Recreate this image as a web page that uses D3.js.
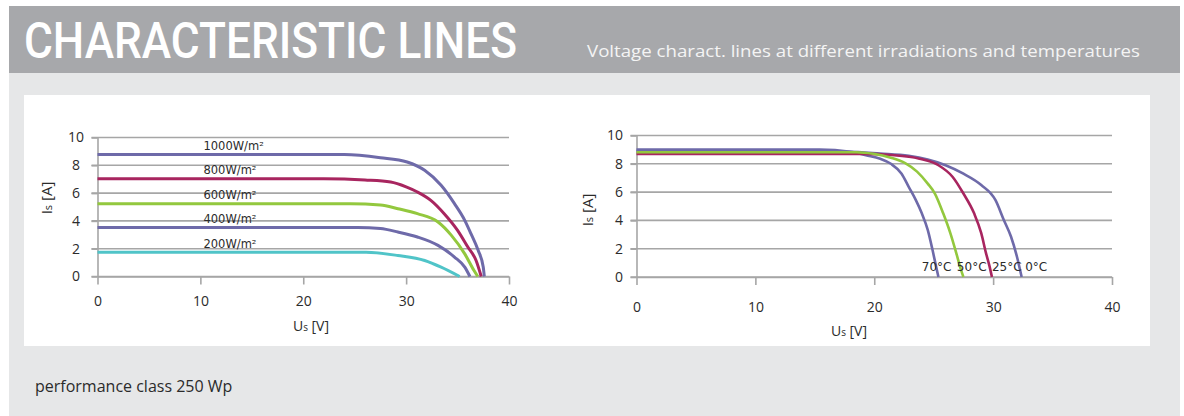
<!DOCTYPE html>
<html>
<head>
<meta charset="utf-8">
<script src="https://cdn.jsdelivr.net/npm/d3@7"></script>
<style>
  body { margin: 0; background: #fff; }
  svg { display: block; }
  .tick text { font-family: "Open Sans", sans-serif; font-size: 14px; fill: #2b2b2b; }
  .axis-title { font-family: "Open Sans", sans-serif; font-size: 14px; fill: #2b2b2b; }
  .curve-label { font-family: "DejaVu Sans", sans-serif; fill: #2b2b2b; }
</style>
</head>
<body>
<div id="chart"></div>
<script>
// left chart: current vs voltage at different irradiations [U, I]
const irr1000 = [[0, 8.77], [24, 8.77], [27.5, 8.55], [30.1, 8.24], [31.8, 7.64], [33.4, 6.56], [34.7, 5.24], [35.7, 4.04], [36.3, 3.08], [37.0, 1.88], [37.5, 0.67], [37.6, 0]];
const irr800 = [[0, 7.04], [22, 7.04], [26, 6.95], [28.5, 6.8], [30, 6.45], [31.1, 6.08], [32.4, 5.48], [33.7, 4.52], [35.0, 3.32], [36.0, 2.12], [36.8, 1.15], [37.3, 0]];
const irr600 = [[0, 5.24], [24.6, 5.24], [27.5, 5.15], [29.2, 4.88], [31.1, 4.52], [33.1, 3.92], [34.4, 2.96], [35.7, 1.63], [36.6, 0.43], [36.97, 0]];
const irr400 = [[0, 3.53], [25.3, 3.53], [27.5, 3.45], [29.2, 3.2], [31.1, 2.84], [33.1, 2.24], [34.7, 1.4], [35.7, 0.67], [36.2, 0]];
const irr200 = [[0, 1.75], [26.1, 1.75], [29.2, 1.51], [31.8, 1.15], [33.4, 0.67], [35.2, 0]];
const irrLabels = ["1000W/m²", "800W/m²", "600W/m²", "400W/m²", "200W/m²"];

// right chart: current vs voltage at different temperatures [U, I]
const t70 = [[0, 9.0], [15.4, 9.0], [18, 8.85], [19.3, 8.6], [20.5, 8.36], [21.4, 8.0], [22.3, 7.3], [22.9, 6.37], [23.5, 5.43], [24.0, 4.5], [24.5, 3.33], [24.9, 1.92], [25.2, 0.75], [25.4, 0]];
const t50 = [[0, 8.82], [18.5, 8.82], [19.9, 8.71], [21.4, 8.43], [22.6, 8.05], [23.6, 7.45], [24.5, 6.6], [25.1, 5.9], [25.8, 4.5], [26.4, 3.1], [26.9, 1.69], [27.3, 0.5], [27.5, 0]];
const t25 = [[0, 8.7], [19, 8.7], [21.4, 8.62], [23.8, 8.36], [25.4, 7.9], [26.6, 7.07], [27.5, 5.9], [28.4, 4.5], [29.0, 3.1], [29.4, 1.69], [29.7, 0.75], [29.9, 0]];
const t0 = [[0, 8.9], [17.8, 8.85], [20.5, 8.72], [22.9, 8.56], [24.5, 8.3], [26, 7.9], [27.5, 7.3], [29, 6.5], [30.2, 5.43], [30.9, 4.03], [31.5, 2.86], [32.0, 1.45], [32.4, 0]];
const tempLabels = ["70°C", "50°C", "25°C", "0°C"];
const tempLabelU = [24.0, 26.95, 29.9, 32.7];

const xTicks = [0, 10, 20, 30, 40];
const yTicks = [0, 2, 4, 6, 8, 10];

const PURPLE = "#6e6aa9", MAGENTA = "#a8255f", GREEN = "#93c83e", CYAN = "#50c4c8";
const GRID = "#a6a6a6";

const svg = d3.select("#chart").append("svg")
  .attr("width", 1184)
  .attr("height", 416);

// background blocks
svg.append("rect").attr("x", 9).attr("y", 6).attr("width", 1171).attr("height", 67).attr("fill", "#a7a8ab");
svg.append("rect").attr("x", 9).attr("y", 73).attr("width", 1171).attr("height", 343).attr("fill", "#e6e7e8");
svg.append("rect").attr("x", 24).attr("y", 95).attr("width", 1126).attr("height", 251).attr("fill", "#fff");

svg.append("text")
  .attr("x", 24).attr("y", 58)
  .attr("textLength", 493).attr("lengthAdjust", "spacingAndGlyphs")
  .style("font-family", "Roboto, sans-serif").style("font-size", "50px").style("font-weight", 500)
  .attr("fill", "#fff")
  .text("CHARACTERISTIC LINES");

svg.append("text")
  .attr("x", 587).attr("y", 57)
  .attr("textLength", 553).attr("lengthAdjust", "spacingAndGlyphs")
  .style("font-family", "Open Sans, sans-serif").style("font-size", "17px")
  .attr("fill", "#f4f4f4")
  .text("Voltage charact. lines at different irradiations and temperatures");

svg.append("text")
  .attr("x", 35).attr("y", 392)
  .style("font-family", "Open Sans, sans-serif").style("font-size", "16px")
  .attr("fill", "#2b2b2b")
  .text("performance class 250 Wp");

function drawChart(cfg) {
  let x = d3.scaleLinear().domain([0, 40]).range([cfg.left, cfg.right]);
  let y = d3.scaleLinear().domain([0, 10]).range([cfg.bottom, cfg.top]);
  let g = svg.append("g");

  // horizontal gridlines, they also act as the y ticks
  g.selectAll("line.grid")
    .data(yTicks)
    .enter()
    .append("line")
    .attr("class", "grid")
    .attr("x1", cfg.left - 6).attr("x2", cfg.right)
    .attr("y1", d => y(d)).attr("y2", d => y(d))
    .attr("stroke", GRID).attr("stroke-width", 1.6);

  // y axis
  let yAxis = g.append("g")
    .attr("transform", "translate(" + cfg.left + ",0)")
    .call(d3.axisLeft(y).tickValues(yTicks).tickSize(6).tickSizeOuter(0).tickPadding(cfg.yPad));
  yAxis.selectAll("line, path").attr("stroke", GRID).attr("stroke-width", 1.6);
  yAxis.selectAll("text").attr("text-anchor", cfg.yAnchor).attr("dx", cfg.yDx);

  // x axis
  let xAxis = g.append("g")
    .attr("transform", "translate(0," + cfg.bottom + ")")
    .call(d3.axisBottom(x).tickValues(xTicks).tickSize(8).tickSizeOuter(0).tickPadding(cfg.xPad));
  xAxis.selectAll("line, path").attr("stroke", GRID).attr("stroke-width", 1.6);

  // axis titles
  let xt = g.append("text").attr("class", "axis-title")
    .attr("x", cfg.xTitleX).attr("y", cfg.xTitleY)
    .attr("text-anchor", "middle");
  xt.append("tspan").text("U");
  xt.append("tspan").style("font-size", "10px").text("s");
  xt.append("tspan").text(" [V]");

  let yt = g.append("text").attr("class", "axis-title")
    .attr("transform", "translate(" + cfg.yTitleX + "," + cfg.yTitleY + ") rotate(-90)")
    .attr("text-anchor", "middle")
    .style("font-size", "15px");
  yt.append("tspan").text("I");
  yt.append("tspan").style("font-size", "11px").text("s");
  yt.append("tspan").text(" [A]");

  let line = d3.line()
    .x(d => x(d[0]))
    .y(d => y(d[1]))
    .curve(d3.curveMonotoneX);

  g.selectAll("path.curve")
    .data(cfg.series)
    .enter()
    .append("path")
    .attr("class", "curve")
    .attr("d", d => line(d.values))
    .attr("fill", "none")
    .attr("stroke", d => d.color)
    .attr("stroke-width", cfg.lineWidth);

  return { g: g, x: x, y: y };
}

// left chart
let left = drawChart({
  left: 97.5, right: 509, top: 137.5, bottom: 276.5,
  yPad: 7, yAnchor: "middle", yDx: "-0.6em", xPad: 12,
  xTitleX: 311, xTitleY: 331, yTitleX: 52, yTitleY: 198,
  lineWidth: 3,
  series: [
    { values: irr1000, color: PURPLE },
    { values: irr800, color: MAGENTA },
    { values: irr600, color: GREEN },
    { values: irr400, color: PURPLE },
    { values: irr200, color: CYAN }
  ]
});

left.g.selectAll("text.curve-label")
  .data([irr1000, irr800, irr600, irr400, irr200])
  .enter()
  .append("text")
  .attr("class", "curve-label")
  .attr("x", left.x(10.3))
  .attr("y", d => left.y(d[0][1]) - 4.5)
  .style("font-size", "11.5px")
  .text((d, i) => irrLabels[i]);

// right chart
let right = drawChart({
  left: 636.5, right: 1112, top: 135.5, bottom: 277,
  yPad: 7.5, yAnchor: "end", yDx: 0, xPad: 17,
  xTitleX: 849, xTitleY: 336, yTitleX: 593, yTitleY: 210,
  lineWidth: 2.6,
  series: [
    { values: t0, color: PURPLE },
    { values: t70, color: PURPLE },
    { values: t25, color: MAGENTA },
    { values: t50, color: GREEN }
  ]
});

right.g.selectAll("text.curve-label")
  .data(tempLabels)
  .enter()
  .append("text")
  .attr("class", "curve-label")
  .attr("x", (d, i) => right.x(tempLabelU[i]))
  .attr("y", right.y(0) - 6)
  .style("font-size", "12px")
  .text(d => d);
</script>
</body>
</html>
